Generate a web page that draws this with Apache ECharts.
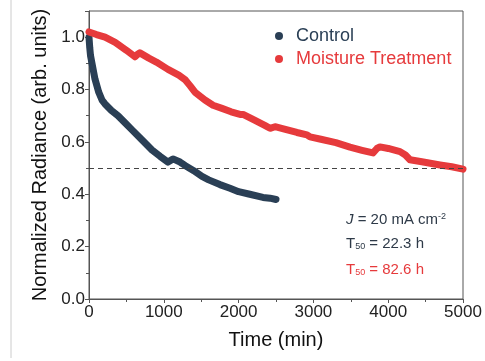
<!DOCTYPE html>
<html lang="en">

<head>
  <meta charset="UTF-8">
  <title>Normalized radiance vs time</title>
  <script src="https://cdn.jsdelivr.net/npm/echarts@6/dist/echarts.min.js"></script>
  <style>
    html, body { margin: 0; padding: 0; background: #fff; }
    #chart { width: 485px; height: 361px; }
  </style>
</head>

<body>
  <div id="chart"></div>
  <script>
    // Control curve (time in min, normalized radiance)
    const controlTime = [0, 10, 20, 40, 80, 130, 174, 214, 300, 388, 481, 575, 700, 842, 950, 1056, 1123, 1217, 1283, 1400, 1511, 1600, 1750, 1885, 2000, 2150, 2326, 2420, 2500];
    const controlValue = [1.00, 0.96, 0.93, 0.90, 0.84, 0.79, 0.76, 0.745, 0.72, 0.70, 0.673, 0.646, 0.61, 0.569, 0.545, 0.523, 0.535, 0.523, 0.51, 0.49, 0.468, 0.455, 0.437, 0.423, 0.41, 0.40, 0.388, 0.385, 0.38];

    // Moisture treatment curve
    const treatTime = [0, 100, 214, 350, 500, 615, 650, 680, 800, 900, 1056, 1200, 1283, 1350, 1417, 1550, 1658, 1778, 1900, 2019, 2040, 2060, 2200, 2350, 2420, 2487, 2600, 2780, 2914, 2955, 3100, 3300, 3489, 3650, 3797, 3850, 3890, 4000, 4158, 4230, 4291, 4450, 4693, 4850, 5000];
    const treatValue = [1.02, 1.01, 1.00, 0.98, 0.95, 0.925, 0.935, 0.94, 0.92, 0.905, 0.877, 0.855, 0.838, 0.815, 0.79, 0.76, 0.74, 0.728, 0.715, 0.705, 0.712, 0.705, 0.685, 0.663, 0.652, 0.658, 0.65, 0.636, 0.627, 0.619, 0.61, 0.597, 0.58, 0.568, 0.558, 0.575, 0.581, 0.575, 0.563, 0.55, 0.532, 0.524, 0.512, 0.505, 0.496];

    const seriesNames = ['Control', 'Moisture Treatment'];
    const halfLife = 0.5;

    const navy = '#2a3f55';
    const red = '#e63a3c';
    const axisColor = '#555';

    const zip = (xs, ys) => xs.map((x, i) => [x, ys[i]]);

    let myChart = echarts.init(document.getElementById('chart'));

    let option = {
      animation: false,
      grid: {
        left: 89,
        right: 22,
        top: 11,
        bottom: 62,
        show: true,
        borderColor: axisColor,
        borderWidth: 1
      },
      legend: {
        orient: 'vertical',
        left: 270,
        top: 22,
        itemGap: 5,
        itemWidth: 8,
        itemHeight: 8,
        icon: 'circle',
        textStyle: { fontSize: 18, fontFamily: 'Liberation Sans', padding: [0, 0, 0, 8] },
        data: [
          { name: seriesNames[0], textStyle: { color: navy } },
          { name: seriesNames[1], textStyle: { color: red } }
        ]
      },
      xAxis: {
        type: 'value',
        min: 0,
        max: 5000,
        interval: 1000,
        name: 'Time (min)',
        nameLocation: 'middle',
        nameGap: 31,
        nameTextStyle: { fontSize: 20, color: '#111', fontFamily: 'Liberation Sans' },
        axisLine: { show: true, lineStyle: { color: axisColor } },
        axisTick: { show: true, length: 4, lineStyle: { color: axisColor } },
        minorTick: { show: true, splitNumber: 2, length: 3, lineStyle: { color: axisColor } },
        splitLine: { show: false },
        axisLabel: {
          fontSize: 17,
          color: '#222',
          margin: 5,
          fontFamily: 'Liberation Sans',
          formatter: v => String(v)
        }
      },
      yAxis: {
        type: 'value',
        min: 0,
        max: 1.1,
        interval: 0.2,
        name: 'Normalized Radiance (arb. units)',
        nameLocation: 'middle',
        nameGap: 39,
        nameTextStyle: { fontSize: 20, color: '#111', fontFamily: 'Liberation Sans' },
        axisLine: { show: true, lineStyle: { color: axisColor } },
        axisTick: { show: true, length: 4, lineStyle: { color: axisColor } },
        minorTick: { show: true, splitNumber: 2, length: 3, lineStyle: { color: axisColor } },
        splitLine: { show: false },
        axisLabel: {
          fontSize: 17,
          color: '#222',
          margin: 4,
          fontFamily: 'Liberation Sans',
          showMaxLabel: false,
          formatter: v => (v > 1.05 ? '' : v.toFixed(1))
        }
      },
      series: [
        {
          name: seriesNames[0],
          type: 'line',
          data: zip(controlTime, controlValue),
          showSymbol: false,
          itemStyle: { color: navy },
          lineStyle: { color: navy, width: 7, cap: 'round', join: 'round' },
          markLine: {
            silent: true,
            symbol: 'none',
            label: { show: false },
            lineStyle: { color: '#444', type: [5, 4], width: 1.2 },
            data: [{ yAxis: halfLife }]
          }
        },
        {
          name: seriesNames[1],
          type: 'line',
          data: zip(treatTime, treatValue),
          showSymbol: false,
          itemStyle: { color: red },
          lineStyle: { color: red, width: 7, cap: 'round', join: 'round' }
        }
      ],
      graphic: [
        {
          type: 'text',
          left: 346,
          top: 212,
          style: {
            text: '{i|J} = 20 mA cm{sup|-2}',
            fill: '#2e3a48',
            font: '15px "Liberation Sans"',
            rich: {
              i: { fontStyle: 'italic', fontSize: 15, fontFamily: 'Liberation Sans', fill: '#2e3a48' },
              sup: { fontSize: 9, verticalAlign: 'top', fontFamily: 'Liberation Sans', fill: '#2e3a48' }
            }
          }
        },
        {
          type: 'text',
          left: 346,
          top: 236,
          style: {
            text: 'T{sub|50} = 22.3 h',
            fill: '#2e3a48',
            font: '15px "Liberation Sans"',
            rich: {
              sub: { fontSize: 9, verticalAlign: 'bottom', fontFamily: 'Liberation Sans', fill: '#2e3a48' }
            }
          }
        },
        {
          type: 'text',
          left: 346,
          top: 262,
          style: {
            text: 'T{sub|50} = 82.6 h',
            fill: red,
            font: '15px "Liberation Sans"',
            rich: {
              sub: { fontSize: 9, verticalAlign: 'bottom', fontFamily: 'Liberation Sans', fill: red }
            }
          }
        },
        {
          type: 'line',
          shape: { x1: 11, y1: 0, x2: 11, y2: 358 },
          style: { stroke: '#ccc', lineWidth: 1 }
        }
      ]
    };

    myChart.setOption(option);
  </script>
</body>

</html>
